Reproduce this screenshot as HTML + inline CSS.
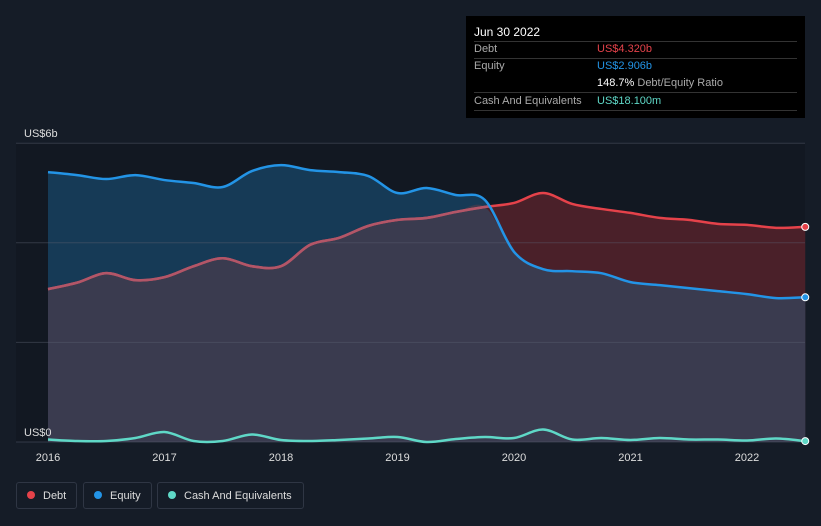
<!DOCTYPE html>
<html><head><meta charset="utf-8"><style>
body{margin:0;width:821px;height:526px;background:#151c27;font-family:"Liberation Sans",sans-serif;overflow:hidden;position:relative}
.tt{position:absolute;left:466px;top:16px;width:339px;height:102px;background:#000;color:#aaa;font-size:11px}
.tt .row{position:absolute;left:8px;right:8px;height:17px;border-bottom:1px solid #333;line-height:17px}
.tt .v{position:absolute;left:123px}
.leg{position:absolute;top:482px;height:27px;border:1px solid #2f3644;border-radius:3px;color:#ddd;font-size:11px;line-height:27px;box-sizing:border-box}
.dot{display:inline-block;width:8px;height:8px;border-radius:50%;margin:0 8px 0 10px}
</style></head><body>
<div class="tt">
<div style="position:absolute;left:8px;top:9px;color:#fff;font-size:12px">Jun 30 2022</div>
<div style="position:absolute;left:8px;right:8px;top:25px;border-top:1px solid #333"></div>
<div class="row" style="top:25px">Debt<span class="v" style="color:#e5424a">US$4.320b</span></div>
<div class="row" style="top:42px;border-bottom:none">Equity<span class="v" style="color:#2394e6">US$2.906b</span></div>
<div class="row" style="top:59px"><span class="v"><b style="color:#fff;font-weight:normal">148.7%</b> Debt/Equity Ratio</span></div>
<div class="row" style="top:77px">Cash And Equivalents<span class="v" style="color:#5fd8c7">US$18.100m</span></div>
</div>
<svg id="c" width="821" height="526" style="position:absolute;left:0;top:0"></svg>
<div class="leg" style="left:16px;width:61px"><span class="dot" style="background:#e5424a"></span>Debt</div>
<div class="leg" style="left:83px;width:69px"><span class="dot" style="background:#2394e6"></span>Equity</div>
<div class="leg" style="left:157px;width:147px"><span class="dot" style="background:#5fd8c7"></span>Cash And Equivalents</div>
<script>
const debt=[3.07,3.2,3.39,3.25,3.31,3.53,3.69,3.53,3.53,3.96,4.1,4.34,4.46,4.5,4.62,4.72,4.8,5.0,4.78,4.68,4.6,4.5,4.46,4.38,4.36,4.3,4.32];
const equity=[5.42,5.36,5.28,5.36,5.26,5.2,5.12,5.44,5.56,5.46,5.42,5.34,5.0,5.1,4.96,4.86,3.82,3.47,3.43,3.39,3.21,3.15,3.09,3.03,2.97,2.89,2.906];
const cash=[0.05,0.02,0.02,0.08,0.2,0.02,0.02,0.15,0.04,0.02,0.04,0.07,0.1,0.0,0.06,0.1,0.08,0.25,0.05,0.08,0.04,0.08,0.05,0.05,0.03,0.07,0.018];
const yearTicks=[2016,2017,2018,2019,2020,2021,2022];
const yLabels=[[0,"US$0"],[6,"US$6b"]];
const X=t=>48+(t-2016)*116.5, Y=v=>442-v*49.8;
const svg=document.getElementById('c'),NS="http://www.w3.org/2000/svg";
function el(n,a,p){const e=document.createElementNS(NS,n);for(const k in a)e.setAttribute(k,a[k]);(p||svg).appendChild(e);return e;}
const pts=a=>a.map((v,i)=>[X(2016+i*0.25),Y(v)]);
function path(p){let d="M"+p[0][0]+","+p[0][1];for(let i=0;i<p.length-1;i++){const p0=p[Math.max(0,i-1)],p1=p[i],p2=p[i+1],p3=p[Math.min(p.length-1,i+2)];
d+=`C${p1[0]+(p2[0]-p0[0])/6},${p1[1]+(p2[1]-p0[1])/6} ${p2[0]-(p3[0]-p1[0])/6},${p2[1]-(p3[1]-p1[1])/6} ${p2[0]},${p2[1]}`;}return d;}
const bg=el('rect',{x:16,y:143,width:789,height:299,fill:'#121822'});


const base=`L${X(2022.5)},${Y(0)}L${X(2016)},${Y(0)}Z`;
const mn=debt.map((d,i)=>Math.min(d,equity[i]));
const defs=el('defs',{});
const cp=el('clipPath',{id:'eqclip'},defs);
el('path',{d:path(pts(equity))+base},cp);
const ea=el('path',{d:path(pts(equity))+base,fill:'#163a56'});


const da=el('path',{d:path(pts(debt))+base,fill:'#4a2029'});


const ma=el('path',{d:path(pts(mn))+base,fill:'#3a3b4f'});


[0,2,4,6].forEach(v=>{const g=el('line',{x1:16,x2:805,y1:Y(v),y2:Y(v),stroke:'#5a5f70','stroke-opacity':0.45});

});
[[cash,'#5fd8c7','cash'],[debt,'#e5424a','debt'],[equity,'#2394e6','equity']].forEach(([a,c,n])=>{
const l=el('path',{d:path(pts(a)),fill:'none',stroke:c,'stroke-width':2.5});


if(n==='debt'){const m=el('path',{d:path(pts(a)),fill:'none',stroke:'#b25668','stroke-width':2.6,'clip-path':'url(#eqclip)'});

}
const d=el('circle',{cx:X(2022.5),cy:Y(a[a.length-1]),r:3.5,fill:c,stroke:'#fff','stroke-width':1});

});
yearTicks.forEach(t=>{const tx=el('text',{x:X(t),y:461,fill:'#ddd','font-size':11,'text-anchor':'middle'});tx.textContent=t;

});
yLabels.forEach(([v,s])=>{const tx=el('text',{x:24,y:Y(v)-6,fill:'#ddd','font-size':11});tx.textContent=s;

});
</script>
</body></html>
